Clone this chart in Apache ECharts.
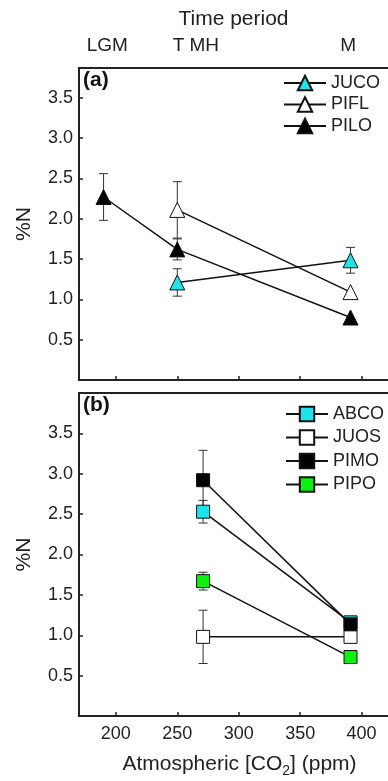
<!DOCTYPE html>
<html>
<head>
<meta charset="utf-8">
<script src="https://cdn.jsdelivr.net/npm/echarts@6/dist/echarts.min.js"></script>
<style>
html,body{margin:0;padding:0;background:#fff;}
#c{width:388px;height:781px;}
</style>
</head>
<body>
<div id="c"></div>
<script>
// ---- Data ----
// Panel (a): CO2 (ppm) of each time period
const co2A = [190, 250, 391];            // LGM, T, M
const JUCO = [null, 1.21, 1.485];
const JUCO_err = [null, 0.17, 0.16];
const PIFL = [null, 2.11, 1.09];
const PIFL_err = [null, 0.35, null];
const PILO = [2.27, 1.62, 0.775];
const PILO_err = [0.29, 0.13, null];

// Panel (b)
const co2B = [271, 391];                 // MH, M
const ABCO = [2.53, 1.16];
const ABCO_err = [0.14, null];
const JUOS = [0.98, 0.98];
const JUOS_err = [0.33, null];
const PIMO = [2.92, 1.135];
const PIMO_err = [0.37, null];
const PIPO = [1.67, 0.73];
const PIPO_err = [0.11, null];

// Tick labels
const xTicks = [200, 250, 300, 350, 400];
const yTicks = [0.5, 1.0, 1.5, 2.0, 2.5, 3.0, 3.5];
const periodPos = [193, 251, 272, 389];
const periodLabels = ['LGM', 'T', 'MH', 'M'];

// ---- Helpers ----
const FONT = 'Liberation Sans, Arial, Helvetica, sans-serif';
const TXT = '#222';
function pts(xs, ys) {
  const out = [];
  xs.forEach((x, i) => { if (ys[i] != null) out.push([x, ys[i]]); });
  return out;
}
function errs(xs, ys, es) {
  const out = [];
  xs.forEach((x, i) => { if (ys[i] != null && es[i] != null) out.push([x, ys[i] - es[i], ys[i] + es[i]]); });
  return out;
}
function errSeries(data, xi, yi) {
  return {
    type: 'custom', xAxisIndex: xi, yAxisIndex: yi, z: 1, silent: true,
    encode: { x: 0, y: [1, 2] },
    data: data,
    renderItem: function (params, api) {
      const x = api.value(0), lo = api.value(1), hi = api.value(2);
      const a = api.coord([x, lo]), b = api.coord([x, hi]);
      const w = 4.5;
      const st = { stroke: '#333', lineWidth: 1 };
      return { type: 'group', children: [
        { type: 'line', shape: { x1: a[0], y1: a[1], x2: b[0], y2: b[1] }, style: st },
        { type: 'line', shape: { x1: a[0] - w, y1: a[1], x2: a[0] + w, y2: a[1] }, style: st },
        { type: 'line', shape: { x1: b[0] - w, y1: b[1], x2: b[0] + w, y2: b[1] }, style: st }
      ]};
    }
  };
}
function lineSeries(name, data, xi, yi, symbol, size, fill) {
  return {
    name: name, type: 'line', xAxisIndex: xi, yAxisIndex: yi, z: 3,
    data: data, symbol: symbol, symbolSize: size, showSymbol: true,
    animation: false,
    lineStyle: { color: '#111', width: 1.5 },
    itemStyle: { color: fill, borderColor: '#111', borderWidth: 1 },
    emphasis: { disabled: true }
  };
}
const axisLine = { show: true, lineStyle: { color: '#222', width: 2 } };
function bottomX(gi, showLabels) {
  return {
    type: 'value', gridIndex: gi, position: 'bottom', min: 170, max: 421.5,
    axisLine: axisLine, splitLine: { show: false },
    axisTick: { show: true, inside: true, length: 4, customValues: xTicks, lineStyle: { color: '#222', width: 1.5 } },
    axisLabel: { show: showLabels, customValues: xTicks, margin: 9, color: TXT, fontSize: 18, fontFamily: FONT }
  };
}
function yAx(gi, max) {
  return {
    type: 'value', gridIndex: gi, min: 0, max: max,
    name: '%N', nameLocation: 'middle', nameRotate: 90, nameGap: 44,
    nameTextStyle: { color: TXT, fontSize: 21, fontFamily: FONT },
    axisLine: axisLine, splitLine: { show: false },
    axisTick: { show: true, inside: true, length: 4, customValues: yTicks, lineStyle: { color: '#222', width: 1.5 } },
    axisLabel: { customValues: yTicks, margin: 6, color: TXT, fontSize: 18, fontFamily: FONT,
      formatter: v => v.toFixed(1) }
  };
}

const chart = echarts.init(document.getElementById('c'), null, { renderer: 'canvas' });
chart.setOption({
  animation: false,
  backgroundColor: '#fff',
  grid: [
    { left: 79, right: 0, top: 68, height: 312 },
    { left: 79, right: 0, top: 393, height: 323 }
  ],
  xAxis: [
    bottomX(0, false),
    {
      type: 'value', gridIndex: 0, position: 'top', min: 170, max: 421.5,
      name: 'Time period', nameLocation: 'middle', nameGap: 38,
      nameTextStyle: { color: TXT, fontSize: 21, fontFamily: FONT },
      axisLine: axisLine, splitLine: { show: false }, axisTick: { show: false },
      axisLabel: { customValues: periodPos, margin: 13, color: TXT, fontSize: 19, fontFamily: FONT,
        formatter: v => periodLabels[periodPos.indexOf(v)] }
    },
    Object.assign(bottomX(1, true), {
      name: 'Atmospheric [CO{sub|2}] (ppm)', nameLocation: 'middle', nameGap: 34,
      nameTextStyle: { color: TXT, fontSize: 21, fontFamily: FONT, lineHeight: 28, padding: [0, 0, 0, 12],
        rich: { sub: { fontSize: 14, fontFamily: FONT, color: TXT, verticalAlign: 'bottom', lineHeight: 15 } } }
    }),
    {
      type: 'value', gridIndex: 1, position: 'top', min: 170, max: 421.5,
      axisLine: axisLine, splitLine: { show: false }, axisTick: { show: false }, axisLabel: { show: false }
    }
  ],
  yAxis: [yAx(0, 3.87), yAx(1, 4.0)],
  legend: [
    {
      data: ['JUCO', 'PIFL', 'PILO'], orient: 'vertical', left: 283, top: 74, padding: 0,
      itemWidth: 42, itemHeight: 18, itemGap: 3.5, selectedMode: false,
      textStyle: { color: TXT, fontSize: 18, fontFamily: FONT }
    },
    {
      data: ['ABCO', 'JUOS', 'PIMO', 'PIPO'], orient: 'vertical', left: 285, top: 405, padding: 0,
      itemWidth: 42, itemHeight: 18, itemGap: 5.5, selectedMode: false,
      textStyle: { color: TXT, fontSize: 18, fontFamily: FONT }
    }
  ],
  graphic: [
    { type: 'text', left: 83, top: 70, style: { text: '(a)', fontSize: 21, fontWeight: 'bold', fontFamily: FONT, fill: '#111' } },
    { type: 'text', left: 83, top: 395, style: { text: '(b)', fontSize: 21, fontWeight: 'bold', fontFamily: FONT, fill: '#111' } }
  ],
  series: [
    errSeries(errs(co2A, JUCO, JUCO_err), 0, 0),
    errSeries(errs(co2A, PIFL, PIFL_err), 0, 0),
    errSeries(errs(co2A, PILO, PILO_err), 0, 0),
    lineSeries('JUCO', pts(co2A, JUCO), 0, 0, 'triangle', 15, '#1fe3ea'),
    lineSeries('PIFL', pts(co2A, PIFL), 0, 0, 'triangle', 15, '#ffffff'),
    lineSeries('PILO', pts(co2A, PILO), 0, 0, 'triangle', 15, '#000000'),
    errSeries(errs(co2B, ABCO, ABCO_err), 2, 1),
    errSeries(errs(co2B, JUOS, JUOS_err), 2, 1),
    errSeries(errs(co2B, PIMO, PIMO_err), 2, 1),
    errSeries(errs(co2B, PIPO, PIPO_err), 2, 1),
    lineSeries('ABCO', pts(co2B, ABCO), 2, 1, 'rect', 13, '#1fe3ea'),
    lineSeries('JUOS', pts(co2B, JUOS), 2, 1, 'rect', 13, '#ffffff'),
    lineSeries('PIMO', pts(co2B, PIMO), 2, 1, 'rect', 13, '#000000'),
    lineSeries('PIPO', pts(co2B, PIPO), 2, 1, 'rect', 13, '#0ef00e')
  ]
});
</script>
</body>
</html>
